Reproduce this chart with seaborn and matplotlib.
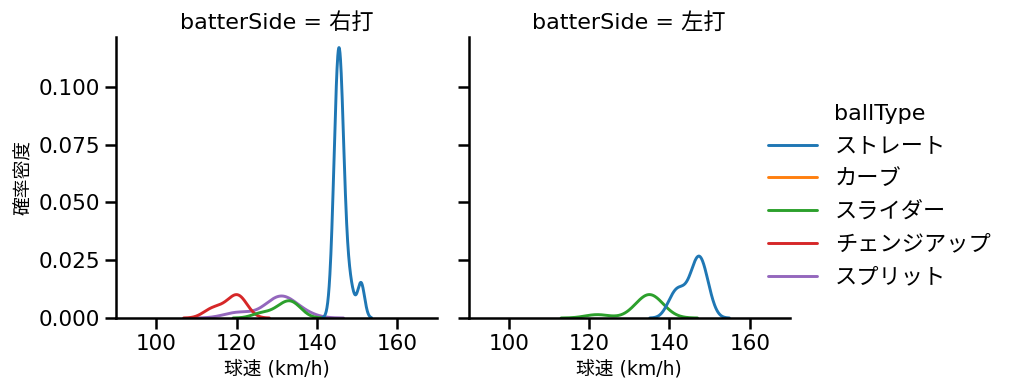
import numpy as np
import pandas as pd
import seaborn as sns
import matplotlib.pyplot as plt
from matplotlib.ticker import MultipleLocator, FormatStrFormatter

sides = ["右打", "左打"]
ball_types = ["ストレート", "カーブ", "スライダー", "チェンジアップ", "スプリット"]

# pitch speeds (km/h)
r_straight = [144, 144, 144, 145, 145, 145, 145, 145, 145, 145, 145, 145, 145, 145, 145, 145,
              146, 146, 146, 146, 146, 146, 146, 146, 146, 146, 146, 146, 146,
              147, 147, 147, 148, 148, 149, 151, 151, 151]
r_curve = [112]
r_slider = [126, 130, 132, 133, 134, 135]
r_change = [113, 115, 117, 119, 120, 120, 121, 122]
r_split = [119, 122, 128, 129, 130, 131, 131, 132, 133, 134, 137]
l_straight = [140, 141, 142, 142, 143, 144, 145, 146, 146, 147, 147, 147, 147,
              148, 148, 148, 149, 149, 150]
l_slider = [122, 132, 134, 134, 135, 135, 136, 136, 138]

groups = [
    ("右打", "ストレート", r_straight),
    ("右打", "カーブ", r_curve),
    ("右打", "スライダー", r_slider),
    ("右打", "チェンジアップ", r_change),
    ("右打", "スプリット", r_split),
    ("左打", "ストレート", l_straight),
    ("左打", "スライダー", l_slider),
]
rows = []
for side, bt, vals in groups:
    for v in vals:
        rows.append({"batterSide": side, "ballType": bt, "speed": v})
df = pd.DataFrame(rows)

sns.set_theme(style="ticks")
plt.rcParams['font.family'] = ['DejaVu Sans', 'Noto Sans CJK JP']
plt.rcParams.update({
    "axes.linewidth": 1.8,
    "xtick.major.width": 1.8, "ytick.major.width": 1.8,
    "xtick.major.size": 8, "ytick.major.size": 8,
    "xtick.labelsize": 15.5, "ytick.labelsize": 15.5,
    "axes.titlesize": 16, "axes.labelsize": 13.5,
    "lines.linewidth": 2.1,
    "xtick.color": "black", "ytick.color": "black",
    "axes.edgecolor": "black", "text.color": "black", "axes.labelcolor": "black",
})

g = sns.displot(data=df, x="speed", hue="ballType", col="batterSide", kind="kde",
                hue_order=ball_types, col_order=sides, palette="tab10",
                height=3.5, aspect=1.2)
g.set(xlim=(90, 170), xticks=[100, 120, 140, 160])
g.set_axis_labels("球速 (km/h)", "確率密度")
g.set_titles("batterSide = {col_name}", size=16)
for ax in g.axes.flat:
    ax.yaxis.set_major_locator(MultipleLocator(0.025))
    ax.yaxis.set_major_formatter(FormatStrFormatter("%.3f"))
    ax.set_ylim(0, 0.1216)

fig = g.figure
fig.set_size_inches(10.14, 3.91)
fig.subplots_adjust(left=116/1014, right=790/1014, top=1-37/391, bottom=1-318/391,
                    wspace=0.097)
sns.move_legend(g, "center left", bbox_to_anchor=(0.738, 0.5), frameon=False,
                fontsize=16, title_fontsize=16, handlelength=2.2, labelspacing=0.57)
fig.savefig("out.png", dpi=100)
